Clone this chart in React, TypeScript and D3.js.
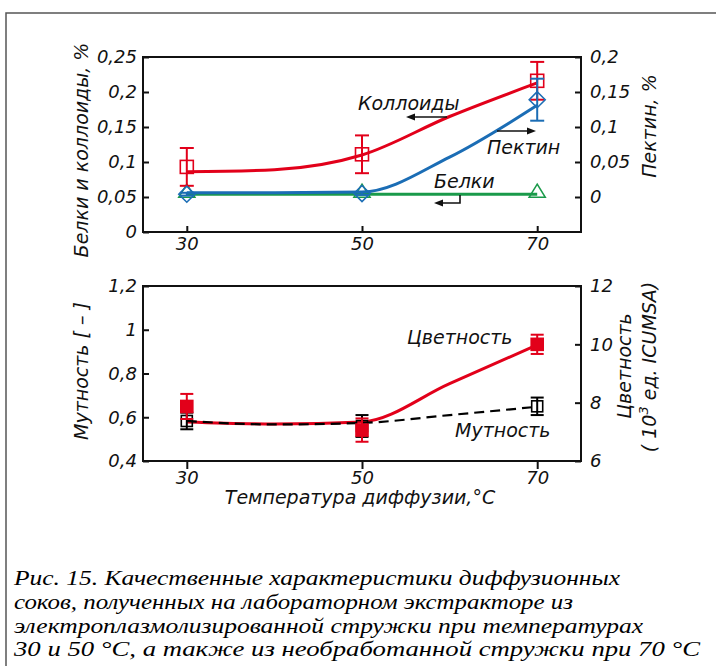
import * as d3 from "d3";
import { useEffect, useRef } from "react";

// temperatures of the measured points
const temps = [30, 50, 70];

// upper panel: proteins & colloids (left axis), pectin (right axis)
const colloids = [0.093, 0.111, 0.216];
const colloidsErr = [0.027, 0.027, 0.027];
const proteins = [0.054, 0.054, 0.054];
const pectin = [0.004, 0.005, 0.139];
const pectinErr = [0.002, 0.002, 0.03];

// smoothed trend curves
const fitTemps = [30, 40, 50, 60, 70];
const colloidsFit = [0.086, 0.089, 0.11, 0.165, 0.213];
const pectinFit = [0.006, 0.006, 0.007, 0.057, 0.131];

// lower panel: turbidity (left axis), colour (right axis)
const turbidity = [0.583, 0.56, 0.65];
const turbidityErr = [0.038, 0.05, 0.04];
const colour = [7.87, 7.06, 10.0];
const colourErr = [0.43, 0.4, 0.33];
const turbidityFit = [0.583, 0.567, 0.574, 0.61, 0.648];
const colourFit = [7.34, 7.27, 7.34, 8.65, 9.98];

// ticks
const xTicks = [30, 50, 70];
const topLeftTicks = [0, 0.05, 0.1, 0.15, 0.2, 0.25];
const topRightTicks = [0, 0.05, 0.1, 0.15, 0.2];
const botLeftTicks = [0.4, 0.6, 0.8, 1, 1.2];
const botRightTicks = [6, 8, 10, 12];

const caption = [
  "Рис. 15. Качественные характеристики диффузионных",
  "соков, полученных на лабораторном экстракторе из",
  "электроплазмолизированной стружки при температурах",
  "30 и 50 °C, а также из необработанной стружки при 70 °C",
];
const captionWidths = [606, 559, 629, 686];

const RED = "#e2001a";
const BLUE = "#1b6db5";
const GREEN = "#1a9a4a";
const INK = "#111";
const FONT = "'DejaVu Sans', sans-serif";

const comma = (d: any) => String(d).replace(".", ",");

function App() {
  const ref = useRef<SVGSVGElement>(null);

  useEffect(() => {
    const svg = d3.select(ref.current);
    svg.selectAll("*").remove();

    // outer frame (cut by the page edges)
    svg.append("path")
      .attr("d", "M6,666 V13 H716")
      .attr("fill", "none")
      .attr("stroke", "#555")
      .attr("stroke-width", 1.5);

    const x = d3.scaleLinear().domain([25, 75]).range([143, 581]);

    const styleAxis = (g: any) => {
      g.select(".domain").remove();
      g.attr("font-family", FONT).attr("font-size", 18).attr("font-style", "italic");
      g.selectAll("line").attr("stroke", INK).attr("stroke-width", 2);
      g.selectAll("text").attr("fill", INK);
    };

    const panel = (top: number, bottom: number, yL: any, yR: any, lt: number[], rt: number[], xOut: boolean) => {
      svg.append("g").attr("transform", `translate(143,0)`)
        .call(d3.axisLeft(yL).tickValues(lt).tickSize(-6).tickPadding(6).tickFormat(comma))
        .call(styleAxis);
      svg.append("g").attr("transform", `translate(581,0)`)
        .call(d3.axisRight(yR).tickValues(rt).tickSize(-6).tickPadding(9).tickFormat(comma))
        .call(styleAxis);
      svg.append("g").attr("transform", `translate(0,${bottom})`)
        .call(d3.axisBottom(x).tickValues(xTicks).tickSize(xOut ? 8 : -6).tickPadding(xOut ? 2 : 5))
        .call(styleAxis);
      svg.append("rect")
        .attr("x", 143).attr("y", top)
        .attr("width", 581 - 143).attr("height", bottom - top)
        .attr("fill", "none").attr("stroke", INK).attr("stroke-width", 2);
    };

    const curve = (vals: number[], y: any, color: string, width: number, dash?: string) => {
      svg.append("path")
        .datum(vals)
        .attr("d", d3.line<number>().x((_, i) => x(fitTemps[i])).y(d => y(d)).curve(d3.curveMonotoneX))
        .attr("fill", "none")
        .attr("stroke", color)
        .attr("stroke-width", width)
        .attr("stroke-dasharray", dash || null);
    };

    const errors = (vals: number[], errs: number[], y: any, color: string, cap: number) => {
      vals.forEach((v, i) => {
        const cx = x(temps[i]);
        const g = svg.append("g").attr("stroke", color).attr("stroke-width", 2);
        g.append("line").attr("x1", cx).attr("x2", cx).attr("y1", y(v - errs[i])).attr("y2", y(v + errs[i]));
        [v - errs[i], v + errs[i]].forEach(e => {
          g.append("line").attr("x1", cx - cap / 2).attr("x2", cx + cap / 2).attr("y1", y(e)).attr("y2", y(e));
        });
      });
    };

    const squares = (vals: number[], y: any, color: string, size: number, filled: boolean) => {
      svg.append("g").selectAll("rect").data(vals).enter().append("rect")
        .attr("x", (_, i) => x(temps[i]) - size / 2)
        .attr("y", d => y(d) - size / 2)
        .attr("width", size).attr("height", size)
        .attr("fill", filled ? color : "none")
        .attr("stroke", color).attr("stroke-width", 1.6);
    };

    const arrowHead = (tx: number, ty: number, dir: number) => {
      svg.append("path")
        .attr("d", `M${tx},${ty} L${tx - dir * 9},${ty - 3.5} L${tx - dir * 9},${ty + 3.5} Z`)
        .attr("fill", INK);
    };

    const label = (txt: string, lx: number, ly: number, size = 19, anchor = "start") =>
      svg.append("text")
        .attr("x", lx).attr("y", ly)
        .attr("font-family", FONT).attr("font-size", size).attr("font-style", "italic")
        .attr("text-anchor", anchor).attr("fill", INK)
        .text(txt);

    const vLabel = (txt: string, lx: number, ly: number, size = 19) =>
      svg.append("text")
        .attr("transform", `translate(${lx},${ly}) rotate(-90)`)
        .attr("font-family", FONT).attr("font-size", size).attr("font-style", "italic")
        .attr("text-anchor", "middle").attr("fill", INK)
        .text(txt);

    // ---------- upper panel ----------
    const yTL = d3.scaleLinear().domain([0, 0.25]).range([232, 57]);
    const yTR = d3.scaleLinear().domain([-0.05, 0.2]).range([232, 57]);
    panel(57, 232, yTL, yTR, topLeftTicks, topRightTicks, false);

    // proteins
    svg.append("path")
      .datum(proteins)
      .attr("d", d3.line<number>().x((_, i) => x(temps[i])).y(d => yTL(d)))
      .attr("fill", "none").attr("stroke", GREEN).attr("stroke-width", 3);
    svg.append("g").selectAll("path").data(proteins).enter().append("path")
      .attr("d", (d, i) => {
        const cx = x(temps[i]), cy = yTL(d);
        return `M${cx},${cy - 10} L${cx + 8},${cy + 3} L${cx - 8},${cy + 3} Z`;
      })
      .attr("fill", "none").attr("stroke", GREEN).attr("stroke-width", 1.6);

    curve(pectinFit, yTR, BLUE, 3);
    curve(colloidsFit, yTL, RED, 3);

    errors(colloids, colloidsErr, yTL, RED, 14);
    squares(colloids, yTL, RED, 13, false);
    errors(pectin, pectinErr, yTR, BLUE, 14);
    svg.append("g").selectAll("path").data(pectin).enter().append("path")
      .attr("d", (d, i) => {
        const cx = x(temps[i]), cy = yTR(d);
        return `M${cx},${cy - 8} L${cx + 8},${cy} L${cx},${cy + 8} L${cx - 8},${cy} Z`;
      })
      .attr("fill", "none").attr("stroke", BLUE).attr("stroke-width", 1.6);

    label("Коллоиды", 358, 110);
    svg.append("line").attr("x1", 447).attr("x2", 412).attr("y1", 117).attr("y2", 117)
      .attr("stroke", INK).attr("stroke-width", 1.6);
    arrowHead(406, 117, -1);

    label("Пектин", 487, 154);
    svg.append("line").attr("x1", 497).attr("x2", 530).attr("y1", 131).attr("y2", 131)
      .attr("stroke", INK).attr("stroke-width", 1.6);
    arrowHead(536, 131, 1);

    label("Белки", 434, 188);
    svg.append("path").attr("d", "M460,195 V203 H440")
      .attr("fill", "none").attr("stroke", INK).attr("stroke-width", 1.6);
    arrowHead(434, 203, -1);

    vLabel("Белки и коллоиды, %", 88, 150);
    vLabel("Пектин, %", 656, 126);

    // ---------- lower panel ----------
    const yBL = d3.scaleLinear().domain([0.4, 1.2]).range([461, 286]);
    const yBR = d3.scaleLinear().domain([6, 12]).range([461, 286]);
    panel(286, 461, yBL, yBR, botLeftTicks, botRightTicks, true);

    curve(colourFit, yBR, RED, 3);
    curve(turbidityFit, yBL, "#000", 2.2, "10,6");

    errors(turbidity, turbidityErr, yBL, "#000", 13);
    squares(turbidity, yBL, "#000", 11, false);
    errors(colour, colourErr, yBR, RED, 13);
    squares(colour, yBR, RED, 12, true);

    label("Цветность", 407, 344);
    label("Мутность", 455, 437);
    label("Температура диффузии,°C", 360, 504, 19, "middle");

    vLabel("Мутность  [ – ]", 88, 371);
    vLabel("Цветность", 631, 366);
    const t2 = svg.append("text")
      .attr("transform", `translate(656,367) rotate(-90)`)
      .attr("font-family", FONT).attr("font-size", 19).attr("font-style", "italic")
      .attr("text-anchor", "middle").attr("fill", INK);
    t2.append("tspan").text("( 10");
    t2.append("tspan").attr("dy", -8).attr("font-size", 13).text("3");
    t2.append("tspan").attr("dy", 8).text(" ед.  ICUMSA)");

    // ---------- caption ----------
    caption.forEach((line, i) => {
      svg.append("text")
        .attr("x", 14).attr("y", 585 + i * 23.8)
        .attr("font-family", "'Liberation Serif', serif")
        .attr("font-size", 21).attr("font-style", "italic")
        .attr("fill", "#000")
        .attr("textLength", captionWidths[i])
        .attr("lengthAdjust", "spacingAndGlyphs")
        .text(line);
    });
  }, []);

  return (
    <svg
      ref={ref}
      width={716}
      height={666}
      style={{ position: "absolute", left: 0, top: 0, background: "#fff" }}
    />
  );
}

export default App;
